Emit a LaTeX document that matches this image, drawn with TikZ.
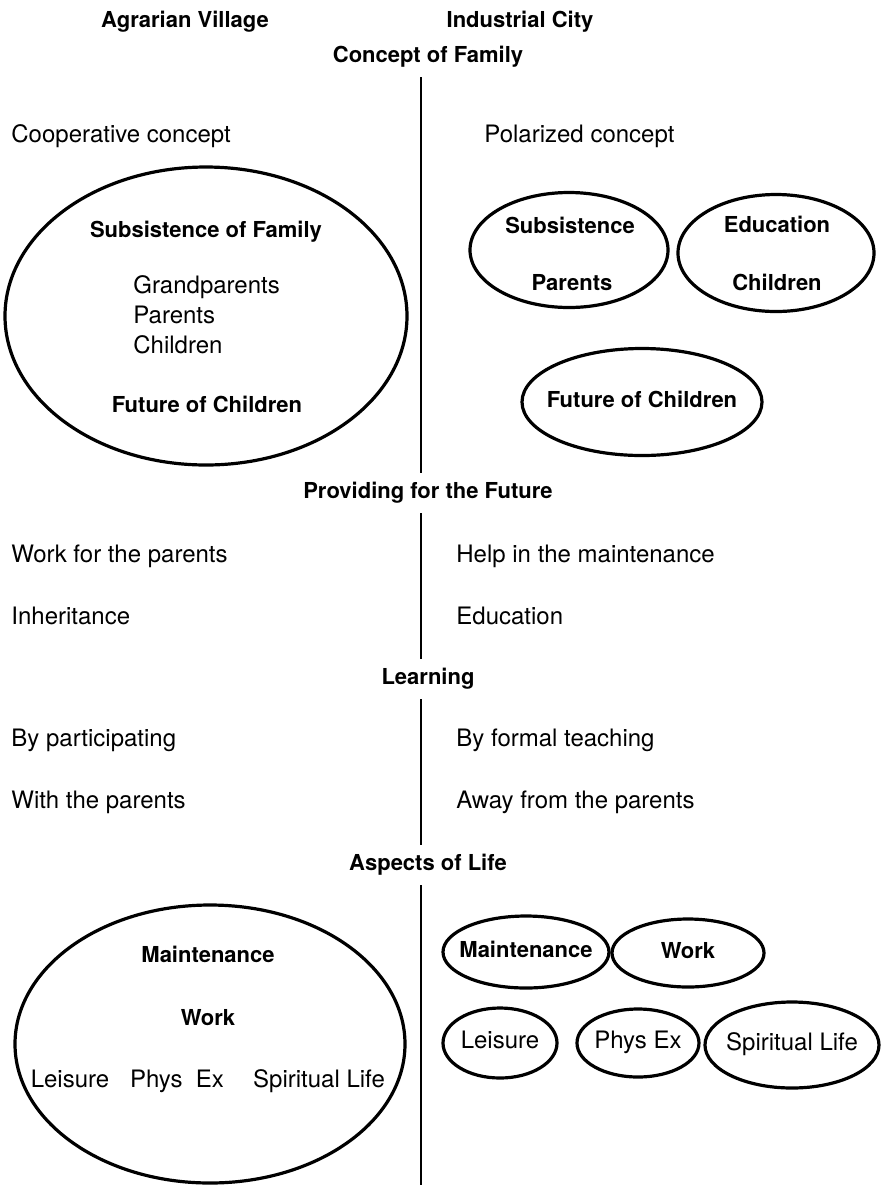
\documentclass[tikz,border=0pt]{standalone}
\usepackage{fontspec}
\setmainfont{TeX Gyre Heros}
\usetikzlibrary{shapes.geometric, positioning}

\begin{document}
\begin{tikzpicture}[
    x=0.5pt, y=-0.5pt,
    plain/.style={font=\fontsize{12}{15}\selectfont, inner sep=1pt,
        text height=0.75em, text depth=0.22em},
    head/.style={font=\bfseries\fontsize{11}{13}\selectfont, inner sep=1pt,
        text height=0.75em, text depth=0.22em},
    ring/.style={draw, ellipse, line width=1.6pt, inner sep=0pt},
    divider/.style={line width=1.2pt}
]
\useasboundingbox (0,0) rectangle (885,1185);

%% ── Column titles ────────────────────────────────────────────────────────────
\node[head] (village) at (185,22) {Agrarian Village};
\node[head] (city)    at (520,22) {Industrial City};

%% ── Section headings ─────────────────────────────────────────────────────────
\node[head, inner sep=5pt] (concept)   at (428,57)  {Concept of Family};
\node[head, inner sep=5pt] (providing) at (428,493) {Providing for the Future};
\node[head, inner sep=5pt] (learning)  at (428,679) {Learning};
\node[head, inner sep=5pt] (aspects)   at (428,865) {Aspects of Life};

%% ── Divider between the two columns ──────────────────────────────────────────
\coordinate (axis)    at (421,0);
\coordinate (axisend) at (421,1185);
\foreach \a/\b in {concept/providing, providing/learning, learning/aspects}
    \draw[divider] (\a.south -| axis) -- (\b.north -| axis);
\draw[divider] (aspects.south -| axis) -- (axisend);

%% ── Concept of Family ────────────────────────────────────────────────────────
\node[plain, anchor=west] (coop)  at (9,137)   {Cooperative concept};
\node[plain, anchor=west] (polar) at (482,137) {Polarized concept};

\node[ring, minimum width=201pt, minimum height=149pt] (familyring) at (206,316) {};
\node[head] (subsistall) at (206,232) {Subsistence of Family};
\node[plain, anchor=west] (grandpar) at (131,288) {Grandparents};
\node[plain, anchor=west] (parents)  at (131,318) {Parents};
\node[plain, anchor=west] (children) at (131,348) {Children};
\node[head] (futureall) at (207,407) {Future of Children};

\node[ring, minimum width=99pt, minimum height=57.5pt] (subring) at (569,250) {};
\node[head] (subtext)    at (570,228) {Subsistence};
\node[head] (parenttext) at (572,285) {Parents};

\node[ring, minimum width=98pt, minimum height=58.5pt] (edring) at (776,253) {};
\node[head] (edtext)    at (777,227) {Education};
\node[head] (childtext) at (777,285) {Children};

\node[ring, minimum width=120pt, minimum height=53.5pt] (futurering) at (642,402) {};
\node[head] (futuretext) at (futurering) {Future of Children};

%% ── Providing for the Future ─────────────────────────────────────────────────
\node[plain, anchor=west] (workpar)   at (9,557)   {Work for the parents};
\node[plain, anchor=west] (inherit)   at (9,619)   {Inheritance};
\node[plain, anchor=west] (helpmaint) at (454,557) {Help in the maintenance};
\node[plain, anchor=west] (educ)      at (454,619) {Education};

%% ── Learning ─────────────────────────────────────────────────────────────────
\node[plain, anchor=west] (particip) at (9,741)   {By participating};
\node[plain, anchor=west] (withpar)  at (9,803)   {With the parents};
\node[plain, anchor=west] (formal)   at (454,741) {By formal teaching};
\node[plain, anchor=west] (awaypar)  at (454,803) {Away from the parents};

%% ── Aspects of Life: village ─────────────────────────────────────────────────
\node[ring, minimum width=195pt, minimum height=139pt] (lifering) at (210,1044) {};
\node[head]  (maintall)  at (208,957)  {Maintenance};
\node[head]  (workall)   at (208,1020) {Work};
\node[plain] (leisall)   at (70,1082)  {Leisure};
\node[plain] (physall)   at (177,1082) {Phys\ \ Ex};
\node[plain] (spiritall) at (319,1082) {Spiritual Life};

%% ── Aspects of Life: city ────────────────────────────────────────────────────
\node[ring, minimum width=83pt, minimum height=36pt] (maintring) at (526,952) {};
\node[head] (mainttext) at (maintring) {Maintenance};
\node[ring, minimum width=76pt, minimum height=34pt] (workring) at (688,953) {};
\node[head] (worktext) at (workring) {Work};
\node[ring, minimum width=57pt, minimum height=35pt] (leisring) at (500,1043) {};
\node[plain] (leistext) at (leisring) {Leisure};
\node[ring, minimum width=61pt, minimum height=34pt] (physring) at (638,1043) {};
\node[plain] (phystext) at (physring) {Phys Ex};
\node[ring, minimum width=87pt, minimum height=43pt] (spiritring) at (792,1045) {};
\node[plain] (spirittext) at (spiritring) {Spiritual Life};

\end{tikzpicture}
\end{document}
